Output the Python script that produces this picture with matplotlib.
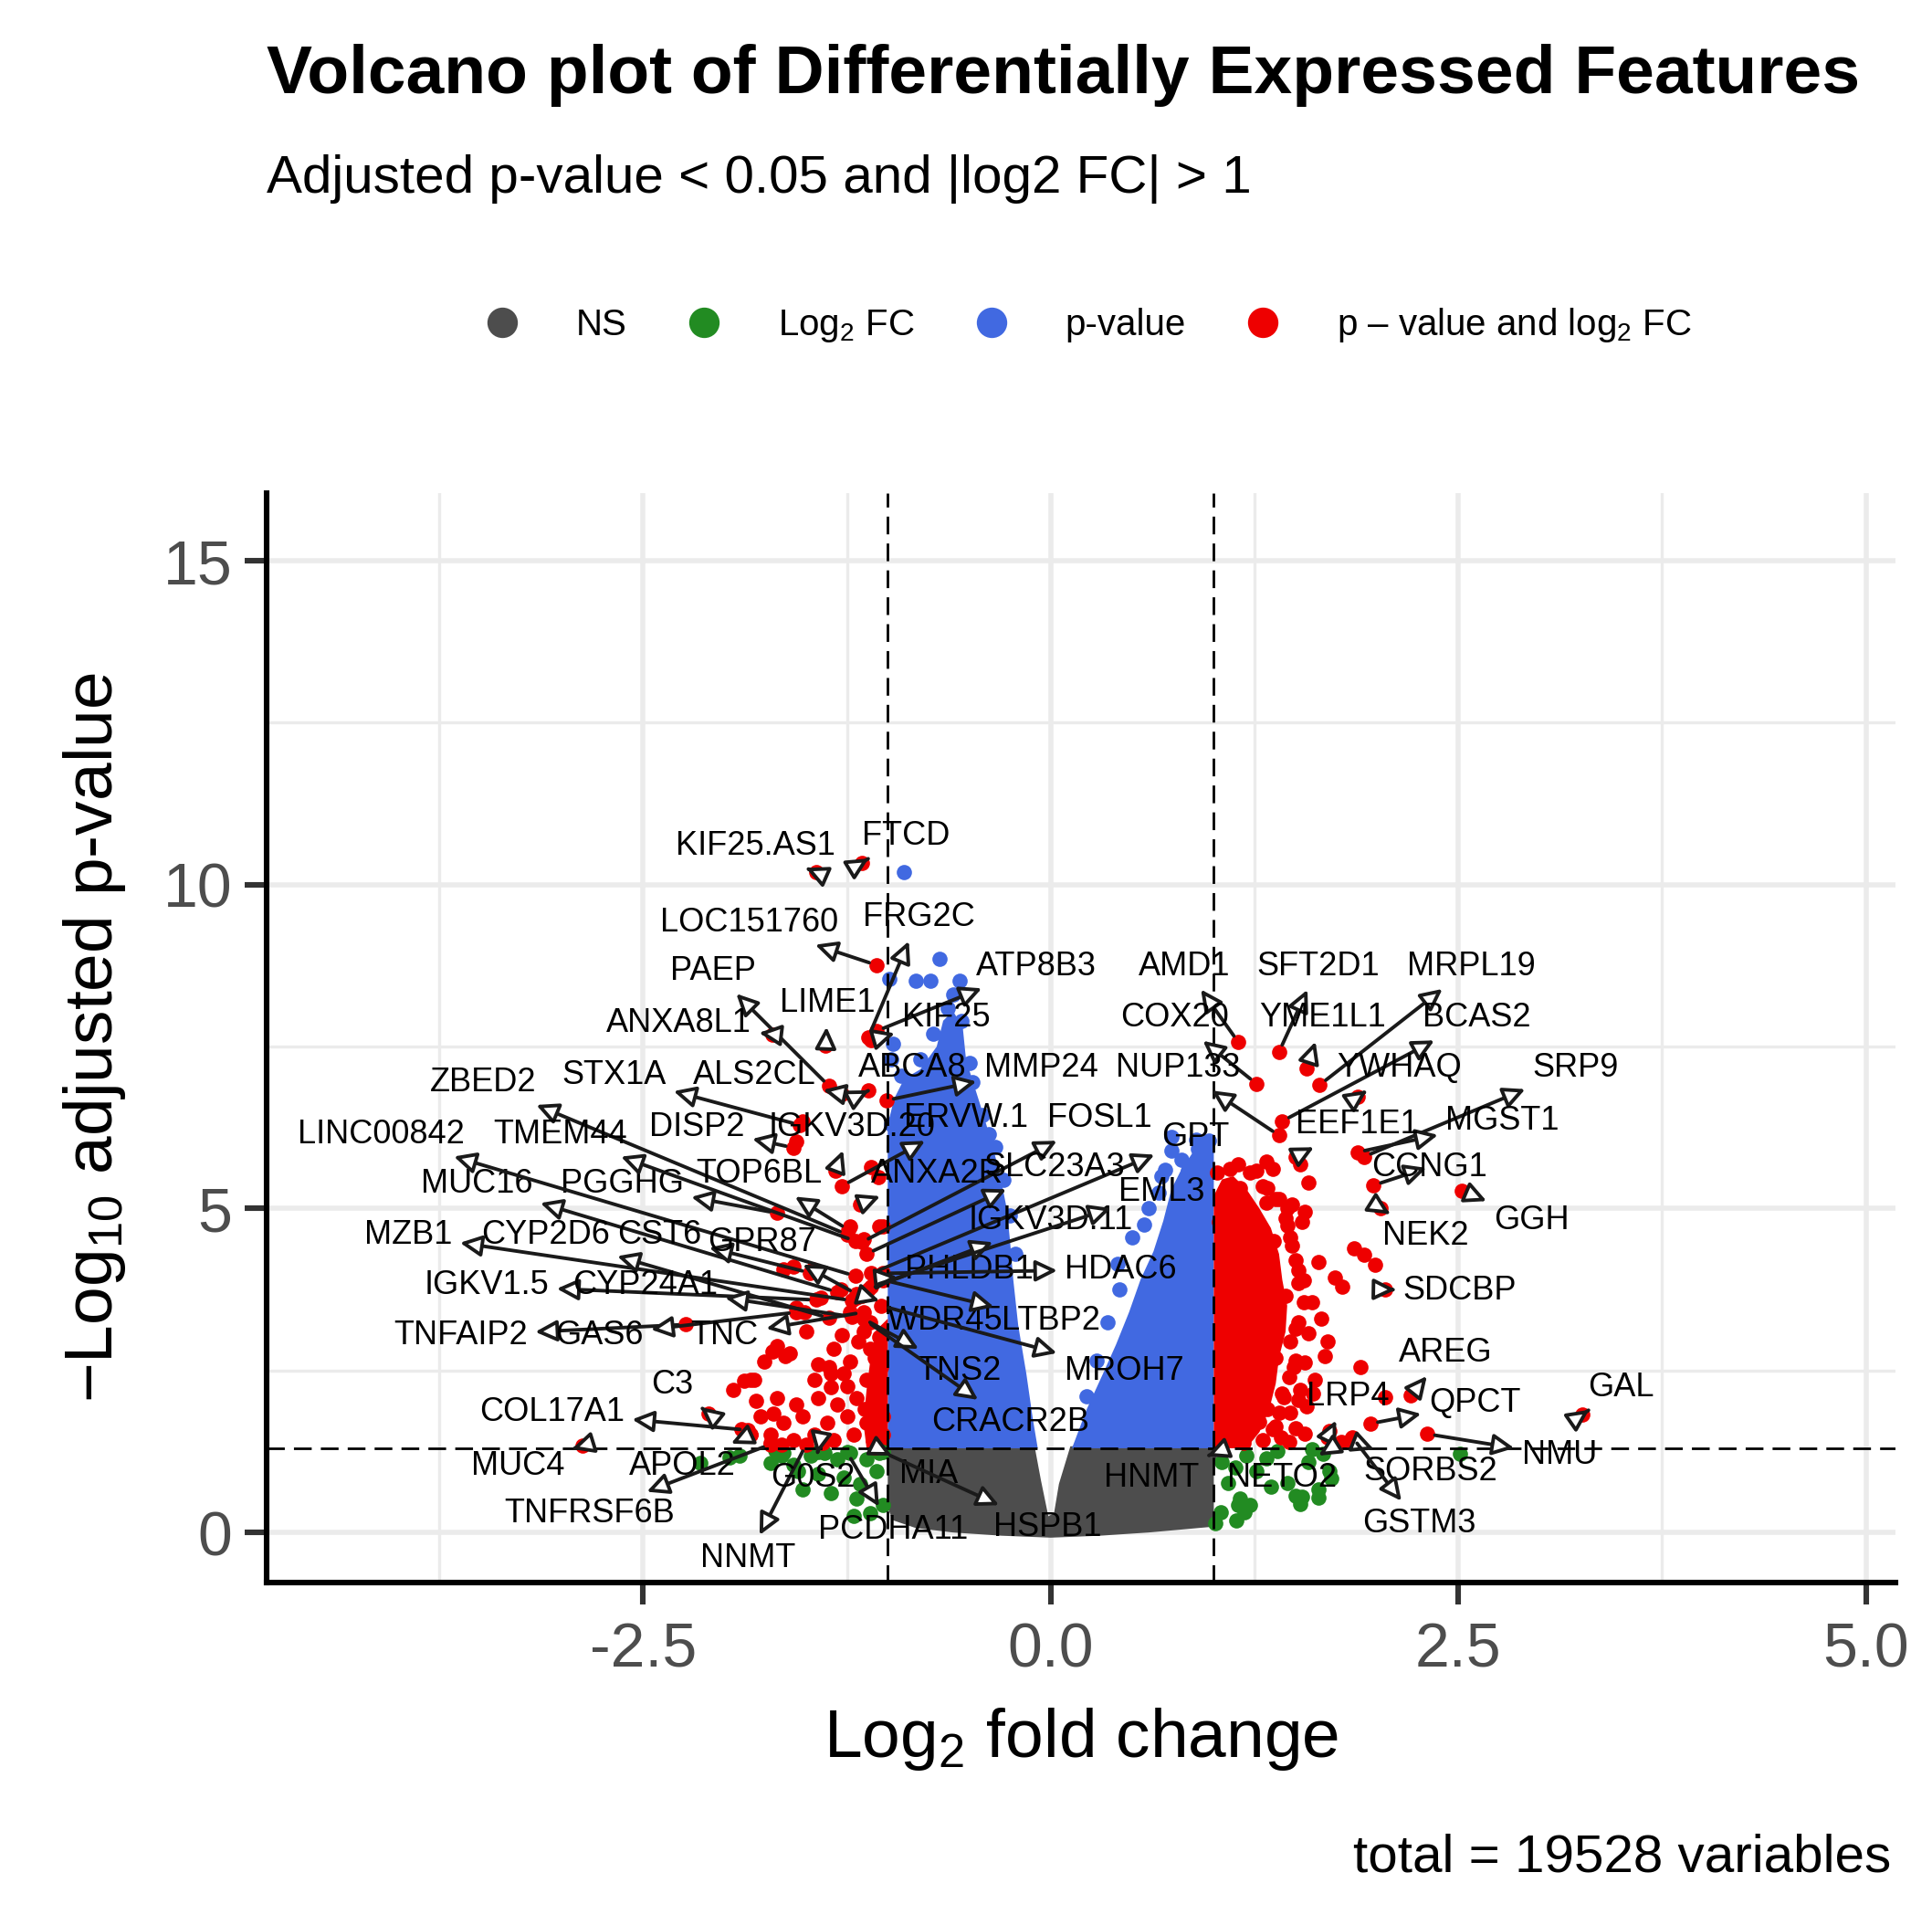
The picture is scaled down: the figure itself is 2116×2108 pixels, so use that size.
import matplotlib
matplotlib.use('Agg')
import matplotlib.pyplot as plt
from matplotlib.lines import Line2D

plt.rcParams['font.family'] = ['Liberation Sans', 'DejaVu Sans']
plt.rcParams['mathtext.fontset'] = 'custom'
plt.rcParams['mathtext.rm'] = 'Liberation Sans'
plt.rcParams['mathtext.it'] = 'Liberation Sans:italic'
plt.rcParams['mathtext.bf'] = 'Liberation Sans:bold'
plt.rcParams['mathtext.default'] = 'regular'

# ---------------- data ----------------
FC_CUT = 1.0
P_CUT = 1.301  # -log10(0.05)

label_genes = ["KIF25.AS1", "FTCD", "LOC151760", "FRG2C", "ATP8B3", "LIME1", "KIF25", "PAEP",
               "ANXA8L1", "ALS2CL", "ABCA8", "MMP24", "ZBED2", "STX1A", "DISP2", "IGKV3D.20",
               "ERVW.1", "FOSL1", "GPT", "ANXA2R", "TOP6BL", "SLC23A3", "MUC16", "PGGHG",
               "LINC00842", "TMEM44", "MZB1", "CYP2D6", "CST6", "GPR87", "IGKV1.5", "CYP24A1",
               "TNFAIP2", "GAS6", "TNC", "C3", "COL17A1", "MUC4", "APOL2", "TNFRSF6B",
               "NNMT", "G0S2", "PCDHA11", "MIA", "HSPB1", "PHLDB1", "HDAC6", "WDR45",
               "LTBP2", "TNS2", "MROH7", "CRACR2B", "IGKV3D.11", "EML3", "HNMT", "AMD1",
               "COX20", "NUP133", "SFT2D1", "MRPL19", "YME1L1", "BCAS2", "YWHAQ", "SRP9",
               "MGST1", "EEF1E1", "CCNG1", "GGH", "NEK2", "SDCBP", "AREG", "QPCT",
               "GAL", "NMU", "LRP4", "NETO2", "SORBS2", "GSTM3"]
label_fc = [-1.44, -1.16, -1.07, -1.12, -1.07, -1.38, -1.10, -1.36,
            -1.71, -1.28, -1.12, -1.01, -1.25, -1.54, -1.58, -1.32,
            -1.28, -1.16, -1.10, -1.17, -1.24, -1.13, -1.31, -1.68,
            -1.20, -1.20, -1.22, -1.36, -1.48, -1.19, -1.44, -1.22,
            -2.24, -1.56, -1.15, -2.10, -1.86, -2.87, -1.84, -1.72,
            -1.50, -1.43, -1.25, -1.08, -1.03, -1.04, -1.03, -1.16,
            -1.03, -1.15, -1.04, -1.14, -1.12, -1.10, 0.97, 1.15,
            1.26, 1.40, 1.40, 1.65, 1.57, 1.42, 1.88, 1.92,
            1.88, 1.50, 1.98, 2.52, 2.02, 2.05, 2.21, 1.96,
            3.26, 2.31, 1.70, 1.78, 1.84, 1.85]
label_p = [10.19, 10.34, 8.76, 7.64, 7.74, 7.52, 7.60, 6.89,
           7.69, 6.77, 6.82, 6.67, 4.60, 6.29, 5.94, 5.59,
           5.35, 4.48, 4.00, 5.07, 4.67, 4.30, 3.71, 4.93,
           3.96, 4.50, 3.58, 3.31, 4.01, 3.68, 3.59, 3.33,
           3.21, 3.40, 3.40, 1.84, 1.58, 1.34, 1.51, 1.36,
           1.36, 1.24, 1.24, 1.32, 1.24, 3.92, 4.00, 3.66,
           3.90, 3.30, 3.50, 3.28, 3.75, 3.80, 1.19, 7.57,
           6.93, 6.13, 7.42, 6.91, 7.16, 6.35, 6.72, 5.80,
           5.87, 5.80, 5.36, 5.28, 5.01, 3.75, 2.11, 1.68,
           1.82, 1.52, 1.47, 1.40, 1.42, 1.47]
label_text_fc = [-1.81, -0.89, -1.85, -0.81, -0.09, -1.37, -0.64, -2.07,
                 -2.28, -1.82, -0.85, -0.06, -3.48, -2.68, -2.17, -1.22,
                 -0.52, 0.30, 0.89, -0.70, -1.79, 0.02, -3.52, -2.63,
                 -4.11, -3.01, -3.94, -3.10, -2.40, -1.77, -3.46, -2.49,
                 -3.62, -2.77, -2.00, -2.32, -3.06, -3.27, -2.26, -2.83,
                 -1.86, -1.46, -0.97, -0.75, -0.02, -0.50, 0.43, -0.65,
                 0.00, -0.56, 0.45, -0.25, 0.00, 0.68, 0.62, 0.82,
                 0.76, 0.78, 1.64, 2.58, 1.67, 2.61, 2.14, 3.22,
                 2.77, 1.88, 2.32, 2.95, 2.30, 2.51, 2.42, 2.60,
                 3.50, 3.12, 1.82, 1.42, 2.33, 2.26]
label_text_p = [10.60, 10.75, 9.41, 9.49, 8.74, 8.17, 7.94, 8.67,
                7.86, 7.06, 7.17, 7.17, 6.94, 7.06, 6.26, 6.26,
                6.39, 6.39, 6.10, 5.53, 5.53, 5.64, 5.38, 5.38,
                6.14, 6.14, 4.59, 4.59, 4.59, 4.48, 3.81, 3.81,
                3.04, 3.04, 3.04, 2.28, 1.86, 1.03, 1.03, 0.29,
                -0.40, 0.84, 0.04, 0.90, 0.08, 4.06, 4.06, 3.27,
                3.27, 2.49, 2.49, 1.70, 4.82, 5.26, 0.84, 8.74,
                7.94, 7.17, 8.74, 8.74, 7.94, 7.94, 7.17, 7.17,
                6.35, 6.29, 5.64, 4.82, 4.57, 3.73, 2.77, 1.99,
                2.24, 1.19, 2.09, 0.84, 0.94, 0.13]

# unlabeled individual features (log2 FC, -log10 adj p)
other_fc = [
    # left, significant
    -1.52, -1.56, -1.64, -1.05, -1.23, -1.15, -1.46, -1.58, -1.29, -1.41, -1.56, -1.51, -1.19,
    -1.23, -1.11, -1.15, -1.05, -1.68, -1.60, -1.33, -1.23, -1.11, -1.43, -1.76, -1.82, -1.35,
    -1.25, -1.13, -1.04, -1.68, -1.56, -1.43, -1.31, -1.19, -1.07, -1.78, -1.64, -1.52, -1.37,
    -1.25, -1.13, -1.03, -1.72, -1.58, -1.45, -1.33, -1.21, -1.09, -1.03, -1.35, -1.45, -1.84,
    -1.81, -1.70, -1.84, -1.72, -1.71, -1.63, -1.88, -1.10, -1.06, -1.03, -1.65, -1.40, -1.28,
    -1.18, -1.08, -1.50, -1.36, -1.27, -1.14, -1.06, -1.95, -1.90,
    # left, fold change only
    -2.15, -1.97, -1.91, -1.69, -1.65, -1.64, -1.52, -1.43, -1.35, -1.19, -1.17, -1.07, -1.03,
    -1.13, -1.31, -1.72, -1.23, -1.05, -1.39, -1.27, -1.58, -1.47, -1.55, -1.11, -1.21,
    # left, p-value only
    -0.90, -0.68, -0.99, -0.83, -0.74, -0.56, -0.63, -0.55, -0.97, -0.98, -0.92, -0.80, -0.72,
    -0.58, -0.48, -0.42, -0.34, -0.29, -0.25, -0.22, -0.96, -0.98, -0.60, -0.50, -0.38,
    # right, p-value only
    0.41, 0.50, 0.60, 0.68, 0.74, 0.70, 0.90, 0.97, 0.57, 0.42, 0.35, 0.28, 0.22, 0.66,
    0.80, 0.74, 0.89, 0.84,
    # right, fold change only
    1.05, 1.09, 1.16, 1.04, 1.22, 1.15, 1.32, 1.39, 1.45, 1.50, 1.54, 1.60, 1.58, 1.64,
    1.67, 1.71, 1.26, 1.35, 1.20, 1.13, 2.51, 1.01, 1.14, 1.19, 1.53, 1.64, 1.72,
    # right, significant
    1.68, 1.90, 1.56, 1.58, 1.50, 1.38, 1.49, 1.52, 1.53, 1.43, 1.38, 1.50, 1.56, 1.71,
    2.05, 1.33, 1.28, 1.41, 1.15, 1.26, 1.32, 1.36, 1.53, 1.58, 1.09, 1.16, 1.33, 1.20,
    1.32, 1.45, 1.48, 1.56, 1.54, 1.45, 1.37, 1.48, 1.64, 1.74, 1.79, 1.86, 1.92, 1.99,
    1.07, 1.03, 1.60, 1.66, 1.62, 1.70, 1.47, 1.55, 1.44, 1.52, 1.61, 1.46, 1.40, 1.57,
    1.02, 1.10, 1.22, 1.30, 1.38, 1.44, 1.47, 1.50, 1.52, 1.55, 1.52, 1.47, 1.50, 1.46,
    1.42, 1.40, 1.36, 1.30, 1.18, 1.25, 1.12, 1.06,
]
other_p = [
    6.34, 6.04, 4.06, 4.73, 4.72, 4.53, 4.06, 4.10, 3.75, 3.63, 3.47, 3.40, 3.63,
    3.40, 3.25, 3.11, 3.02, 2.88, 2.76, 2.83, 2.64, 2.83, 2.59, 2.64, 2.36, 2.45,
    2.26, 2.36, 2.55, 2.08, 1.98, 2.08, 1.98, 2.08, 1.98, 1.79, 1.70, 1.79, 1.70,
    1.79, 1.70, 1.79, 1.51, 1.42, 1.51, 1.42, 1.51, 1.42, 1.51, 2.24, 2.36, 2.36,
    2.03, 1.84, 1.51, 1.39, 2.79, 2.72, 2.34, 5.64, 5.49, 4.73, 1.35, 1.38, 3.05,
    2.95, 2.70, 3.10, 2.55, 2.45, 1.90, 2.25, 2.20, 1.60,
    1.08, 1.16, 1.18, 1.27, 1.18, 1.23, 0.66, 0.90, 0.61, 0.52, 0.75, 0.94, 0.42,
    1.13, 1.13, 1.08, 1.23, 1.23, 1.23, 0.85, 1.04, 1.18, 0.95, 0.30, 0.25,
    10.19, 8.86, 8.54, 8.52, 8.51, 8.51, 8.10, 7.90, 7.55, 7.30, 7.05, 7.30, 7.70,
    7.45, 6.95, 6.45, 5.95, 5.45, 4.90, 4.30, 5.95, 6.30, 8.30, 7.25, 6.15,
    4.15, 4.55, 5.00, 5.50, 5.90, 5.60, 5.92, 6.05, 4.75, 3.75, 3.25, 2.65, 2.10, 5.25,
    5.75, 6.10, 6.06, 5.59,
    1.09, 0.76, 0.52, 0.31, 0.43, 0.43, 1.14, 1.26, 0.76, 0.57, 0.55, 1.28, 1.09, 0.66,
    1.21, 0.95, 0.95, 0.71, 1.18, 1.00, 1.21, 0.15, 0.19, 0.31, 0.44, 0.54, 0.84,
    2.73, 2.56, 2.63, 3.08, 3.15, 2.70, 2.56, 2.04, 2.20, 2.09, 1.64, 1.61, 1.52, 1.56,
    2.09, 1.90, 1.71, 1.47, 5.68, 5.59, 5.73, 5.61, 5.68, 5.40, 5.35, 5.31, 5.31, 5.07,
    5.09, 5.00, 5.07, 4.95, 4.79, 4.74, 4.50, 4.43, 4.17, 3.94, 3.80, 4.39, 4.29, 4.13,
    5.07, 4.79, 3.55, 3.30, 2.35, 2.95, 1.85, 3.90, 3.65, 4.05, 2.15, 1.40, 5.15, 1.95,
    5.55, 5.62, 5.55, 5.35, 5.15, 4.85, 4.55, 4.20, 3.85, 3.55, 3.25, 2.95, 2.65, 2.40,
    2.15, 1.85, 1.60, 1.42, 1.38, 1.75, 1.55, 1.45,
]

# dense regions of overlapping points (outlines)
ns_cloud_fc = [-1.0, -1.0, -0.6, -0.25, -0.10, -0.06, -0.015, 0.02, 0.05, 0.12, 0.5, 1.0, 1.0,
               0.6, 0.3, 0.0, -0.3, -0.6, -0.83, -0.97]
ns_cloud_p = [0.38, 1.36, 1.37, 1.36, 1.34, 0.80, 0.25, 0.30, 0.75, 1.33, 1.35, 1.34, 0.09,
              0.0, -0.05, -0.08, -0.05, 0.0, 0.07, 0.19]
pval_left_fc = [-1.0, -1.0, -0.96, -0.90, -0.80, -0.70, -0.66, -0.60, -0.54, -0.52, -0.47,
                -0.42, -0.36, -0.31, -0.27, -0.25, -0.23, -0.20, -0.15, -0.11, -0.08]
pval_left_p = [1.30, 6.3, 6.7, 7.0, 7.15, 7.5, 7.9, 8.05, 7.8, 7.3, 6.9,
               6.5, 6.0, 5.5, 5.0, 4.5, 3.9, 3.2, 2.45, 1.75, 1.30]
pval_right_fc = [0.13, 0.22, 0.32, 0.40, 0.48, 0.55, 0.63, 0.69, 0.74, 0.80, 0.88, 0.96, 1.0, 1.0]
pval_right_p = [1.30, 1.9, 2.45, 2.9, 3.4, 3.9, 4.34, 4.81, 5.3, 5.6, 5.9, 6.0, 6.0, 1.30]
both_left_fc = [-1.0, -1.0, -1.06, -1.10, -1.13, -1.15, -1.13]
both_left_p = [1.30, 3.3, 3.15, 2.8, 2.2, 1.7, 1.30]
both_right_fc = [1.0, 1.0, 1.05, 1.12, 1.2, 1.28, 1.35, 1.40, 1.42, 1.45, 1.44, 1.40, 1.38, 1.34,
                 1.28, 1.2]
both_right_p = [1.30, 5.2, 5.45, 5.5, 5.3, 5.0, 4.7, 4.3, 3.9, 3.5, 3.1, 2.7, 2.3, 1.9,
                1.55, 1.30]

total_features = 19528

# ---------------- styling ----------------
COL_NS = '#4D4D4D'
COL_FC = '#228B22'
COL_P = '#4169E1'
COL_BOTH = '#EE0000'


def category_color(fc, p):
    if abs(fc) > FC_CUT and p > P_CUT:
        return COL_BOTH
    if p > P_CUT:
        return COL_P
    if abs(fc) > FC_CUT:
        return COL_FC
    return COL_NS


fig = plt.figure(figsize=(10.58, 10.54), dpi=200)
ax = fig.add_axes([0.138, 0.178, 0.843, 0.566])

ax.set_xlim(-4.81, 5.18)
ax.set_ylim(-0.77, 16.05)
ax.set_xticks([-2.5, 0, 2.5, 5.0])
ax.set_xticklabels(['-2.5', '0.0', '2.5', '5.0'])
ax.set_xticks([-3.75, -1.25, 1.25, 3.75], minor=True)
ax.set_yticks([0, 5, 10, 15])
ax.set_yticks([2.5, 7.5, 12.5], minor=True)
ax.grid(which='major', color='#EBEBEB', lw=2.0, zorder=0)
ax.grid(which='minor', color='#EBEBEB', lw=1.2, zorder=0)
ax.set_axisbelow(True)
for s in ['top', 'right']:
    ax.spines[s].set_visible(False)
for s in ['left', 'bottom']:
    ax.spines[s].set_linewidth(2.2)
    ax.spines[s].set_color('black')
ax.tick_params(which='major', length=8.5, width=2.2, color='#333333', labelsize=24.5,
               labelcolor='#4D4D4D')
ax.tick_params(axis='x', pad=7)
ax.tick_params(axis='y', pad=5)
ax.tick_params(which='minor', length=0)

# clouds
ax.fill(ns_cloud_fc, ns_cloud_p, color=COL_NS, lw=0, zorder=2)
ax.fill(pval_left_fc, pval_left_p, color=COL_P, lw=0, zorder=2.1)
ax.fill(pval_right_fc, pval_right_p, color=COL_P, lw=0, zorder=2.1)
ax.fill(both_left_fc, both_left_p, color=COL_BOTH, lw=0, zorder=2.3)
ax.fill(both_right_fc, both_right_p, color=COL_BOTH, lw=0, zorder=2.3)

all_fc = other_fc + label_fc
all_p = other_p + label_p
cols = [category_color(f, p) for f, p in zip(all_fc, all_p)]
order = {COL_NS: 0, COL_P: 1, COL_FC: 2, COL_BOTH: 3}
for c in [COL_NS, COL_P, COL_FC, COL_BOTH]:
    xs = [f for f, cc in zip(all_fc, cols) if cc == c]
    ys = [p for p, cc in zip(all_p, cols) if cc == c]
    ax.scatter(xs, ys, s=36, color=c, linewidths=0, zorder=3 + order[c] * 0.1)

# cut-off lines
dash = (0, (7, 3.6))
ax.axvline(-FC_CUT, color='black', lw=1.0, ls=dash, zorder=4)
ax.axvline(FC_CUT, color='black', lw=1.0, ls=dash, zorder=4)
ax.axhline(P_CUT, color='black', lw=1.0, ls=dash, zorder=4)

# labels with connectors
for g, px, py, tx, ty in zip(label_genes, label_fc, label_p, label_text_fc, label_text_p):
    ax.annotate(g, xy=(px, py), xytext=(tx, ty), ha='center', va='center', fontsize=13,
                color='black', zorder=6,
                arrowprops=dict(arrowstyle='<|-,head_length=0.55,head_width=0.27',
                                ec='#1A1A1A', fc='white', lw=1.4, shrinkA=1.0, shrinkB=3))

ax.set_xlabel('Log$_{2}$ fold change', fontsize=27, labelpad=10)
ax.set_ylabel('\u2212Log$_{10}$ adjusted p-value', fontsize=27, labelpad=14)

# titles
fig.text(0.138, 0.961, 'Volcano plot of Differentially Expressed Features', fontsize=27,
         fontweight='bold', ha='left', va='center')
fig.text(0.138, 0.907, 'Adjusted p-value < 0.05 and |log2 FC| > 1', fontsize=21,
         ha='left', va='center')
fig.text(0.979, 0.035, f'total = {total_features} variables', fontsize=21, ha='right',
         va='center')

handles = [Line2D([], [], marker='o', ls='', color=c, markersize=11)
           for c in [COL_NS, COL_FC, COL_P, COL_BOTH]]
labels = ['NS', 'Log$_{2}$ FC', 'p-value', 'p \u2013 value and log$_{2}$ FC']
fig.legend(handles, labels, loc='center', bbox_to_anchor=(0.563, 0.831), ncol=4,
           frameon=False, fontsize=14.5, handlelength=1.0, handletextpad=1.5,
           columnspacing=1.6)

fig.savefig('out.png', dpi=200)
